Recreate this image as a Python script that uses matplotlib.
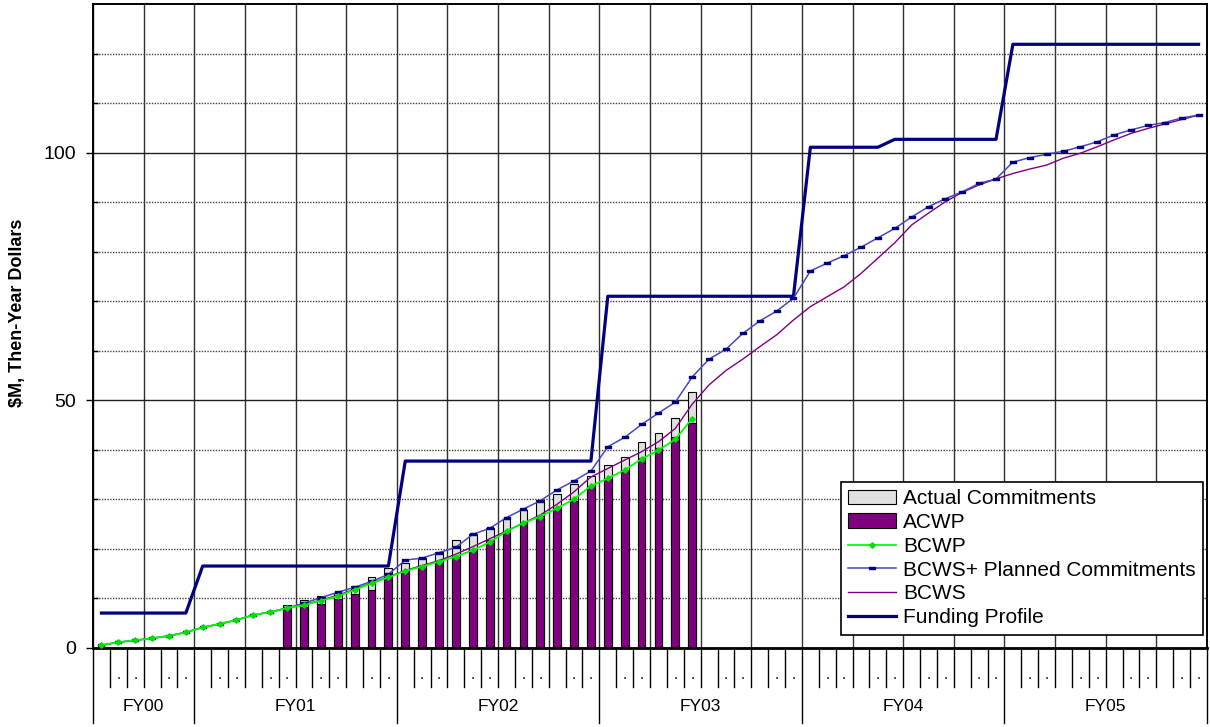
import matplotlib

matplotlib.use("Agg")
import matplotlib.pyplot as plt
import matplotlib.transforms as mtransforms
import numpy as np

plt.rcParams["font.family"] = ["Liberation Sans", "DejaVu Sans"]

# fiscal years and how many months of each are on the chart
FISCAL_YEARS = ["FY00", "FY01", "FY02", "FY03", "FY04", "FY05"]
MONTHS_PER_FY = [6, 12, 12, 12, 12, 12]

# $M, one value per month
FUNDING = [
    7.0, 7.0, 7.0, 7.0, 7.0, 7.0,
    16.5, 16.5, 16.5, 16.5, 16.5, 16.5, 16.5, 16.5, 16.5, 16.5, 16.5, 16.5,
    37.7, 37.7, 37.7, 37.7, 37.7, 37.7, 37.7, 37.7, 37.7, 37.7, 37.7, 37.7,
    71.0, 71.0, 71.0, 71.0, 71.0, 71.0, 71.0, 71.0, 71.0, 71.0, 71.0, 71.0,
    101.1, 101.1, 101.1, 101.1, 101.1, 102.7, 102.7, 102.7, 102.7, 102.7, 102.7, 102.7,
    121.9, 121.9, 121.9, 121.9, 121.9, 121.9, 121.9, 121.9, 121.9, 121.9, 121.9, 121.9,
]
BCWS_PLUS = [
    0.5, 1.1, 1.5, 1.9, 2.4, 3.1,
    4.1, 4.8, 5.6, 6.6, 7.2, 8.0, 9.0, 10.1, 11.2, 12.2, 13.4, 14.8,
    17.7, 18.1, 19.2, 20.3, 22.9, 24.1, 26.3, 28.0, 29.7, 31.9, 33.7, 35.7,
    40.6, 42.5, 45.1, 47.4, 49.6, 54.7, 58.3, 60.3, 63.5, 66.0, 68.0, 70.6,
    76.1, 77.7, 79.2, 80.9, 82.8, 84.7, 87.0, 89.1, 90.7, 92.1, 93.8, 94.7,
    98.1, 99.0, 99.7, 100.3, 101.2, 102.2, 103.6, 104.6, 105.5, 106.1, 107.0, 107.6,
]
BCWS = [
    0.5, 1.1, 1.5, 1.9, 2.4, 3.1,
    4.1, 4.8, 5.6, 6.6, 7.2, 8.0, 8.7, 9.6, 10.6, 11.8, 13.1, 14.3,
    15.6, 16.6, 17.6, 18.9, 20.4, 22.0, 23.6, 25.2, 26.8, 29.0, 31.5, 34.5,
    36.2, 37.9, 39.6, 41.6, 44.3, 49.2, 53.1, 56.0, 58.3, 60.8, 63.2, 66.2,
    68.9, 70.9, 72.9, 75.6, 78.7, 81.8, 85.4, 87.8, 90.1, 92.0, 93.5, 94.7,
    95.8, 96.7, 97.5, 98.9, 99.9, 101.2, 102.6, 103.9, 104.9, 105.8, 106.7, 107.6,
]
BCWP = [
    0.5, 1.1, 1.5, 1.9, 2.4, 3.1,
    4.1, 4.8, 5.6, 6.6, 7.2, 8.0, 8.6, 9.5, 10.4, 11.7, 13.0, 14.2,
    15.5, 16.4, 17.4, 18.4, 19.7, 21.3, 23.5, 25.2, 26.5, 28.2, 30.0, 32.7,
    34.2, 35.9, 38.1, 39.9, 42.1, 46.3,
]
# bars start in the 12th month on the axis (index 11)
FIRST_BAR_MONTH = 11
ACTUAL_COMMITMENTS = [
    8.6, 9.6, 10.4, 11.1, 12.4, 14.2, 16.2,
    17.1, 18.2, 19.3, 21.7, 23.0, 24.2, 26.1, 27.8, 29.8, 31.0, 33.0, 34.6,
    36.9, 38.5, 41.5, 43.3, 46.5, 51.6,
]
ACWP = [
    7.6, 8.3, 8.8, 9.8, 10.8, 11.6, 14.2,
    15.5, 16.3, 17.2, 18.4, 19.8, 21.8, 23.4, 25.2, 26.6, 28.2, 29.7, 32.6,
    34.1, 35.9, 38.3, 40.3, 42.6, 45.3,
]

n_months = sum(MONTHS_PER_FY)
month_x = np.arange(n_months) + 0.5
bar_x = month_x[FIRST_BAR_MONTH:FIRST_BAR_MONTH + len(ACWP)]

fig = plt.figure(figsize=(12.1, 7.27), dpi=100)
ax = fig.add_axes([93 / 1210, 1 - 647.7 / 727, 1114 / 1210, 643.5 / 727])

ax.set_xlim(0, n_months)
ax.set_ylim(0, 130)

# grid: quarters vertically, 50s solid and 10s dotted horizontally
ax.set_xticks(np.arange(0, n_months + 1, 3))
ax.tick_params(axis="x", length=0, labelbottom=False)
ax.set_yticks([0, 50, 100])
ax.set_yticks([v for v in range(10, 130, 10) if v % 50 != 0], minor=True)
ax.tick_params(axis="y", which="major", direction="out", length=5, width=1, pad=7, labelsize=14)
ax.tick_params(axis="y", which="minor", direction="in", length=3.5, width=1)
ax.grid(axis="x", color="#303030", linewidth=1.0)
ax.grid(axis="y", which="major", color="#202020", linewidth=1.0)
ax.grid(axis="y", which="minor", color="#404040", linewidth=1.0, linestyle=(0, (1, 1)))
ax.set_axisbelow(True)
for spine in ax.spines.values():
    spine.set_linewidth(1.4)
    spine.set_color("black")
ax.spines["bottom"].set_linewidth(2.0)

h_actual = ax.bar(bar_x, ACTUAL_COMMITMENTS, width=0.46, color="#e0e0e0",
                  edgecolor="black", linewidth=0.8, label="Actual Commitments", zorder=2)
h_acwp = ax.bar(bar_x, ACWP, width=0.46, color="#800080",
                edgecolor="black", linewidth=0.8, label="ACWP", zorder=2)

rect_marker = [(-1, -0.42), (1, -0.42), (1, 0.42), (-1, 0.42), (-1, -0.42)]
h_fund, = ax.plot(month_x, FUNDING, color="#000080", linewidth=2.3,
                  label="Funding Profile", zorder=3)
h_bcws, = ax.plot(month_x, BCWS, color="#800080", linewidth=1.0, label="BCWS", zorder=4)
h_plus, = ax.plot(month_x, BCWS_PLUS, color="#4848c0", linewidth=1.1, marker=rect_marker,
                  markersize=5, markerfacecolor="#000080", markeredgecolor="#000080",
                  label="BCWS+ Planned Commitments", zorder=5)
h_bcwp, = ax.plot(month_x[:len(BCWP)], BCWP, color="#00ff00", linewidth=1.3, marker="D",
                  markersize=2.8, markerfacecolor="#00dd00", markeredgecolor="#00dd00",
                  label="BCWP", zorder=6)

# two-level category axis drawn below the plot
trans = mtransforms.blended_transform_factory(ax.transData, ax.transAxes)
fy_edges = np.concatenate([[0], np.cumsum(MONTHS_PER_FY)])
for b in range(n_months + 1):
    low = -0.117 if b in fy_edges else -0.061
    ax.plot([b, b], [0, low], color="black", linewidth=1.0, transform=trans, clip_on=False)
for m in range(n_months):
    if m % 3 != 0:
        ax.text(month_x[m], -0.049, ".", transform=trans, ha="center", va="baseline",
                fontsize=11)
for i, fy in enumerate(FISCAL_YEARS):
    mid = (fy_edges[i] + fy_edges[i + 1]) / 2
    ax.text(mid, -0.092, fy, transform=trans, ha="center", va="center", fontsize=12.5)

fig.text(18 / 1210, 1 - 313 / 727, r"\$M, Then-Year Dollars", rotation=90,
         fontsize=13, fontweight="bold", ha="center", va="center")

leg = ax.legend(
    [h_actual, h_acwp, h_bcwp, h_plus, h_bcws, h_fund],
    ["Actual Commitments", "ACWP", "BCWP", "BCWS+ Planned Commitments", "BCWS", "Funding Profile"],
    loc="upper right", bbox_to_anchor=(0.9964, 0.2575), borderaxespad=0,
    fontsize=15, handlelength=2.3, handletextpad=0.35, labelspacing=0.23,
    borderpad=0.35, fancybox=False, framealpha=1, edgecolor="black",
)
leg.get_frame().set_linewidth(1.2)
leg.set_zorder(10)

fig.savefig("out.png", dpi=100)
